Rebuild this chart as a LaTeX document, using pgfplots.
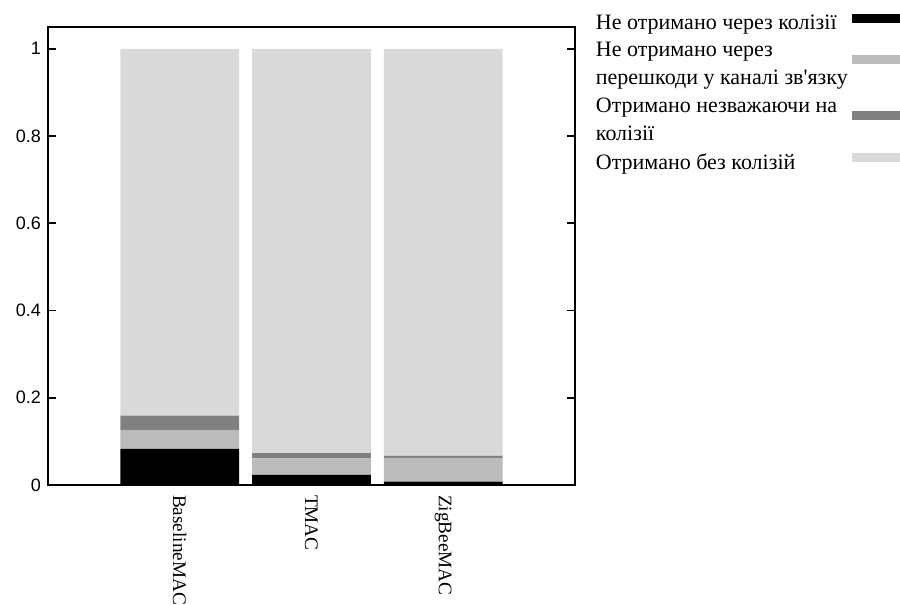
\documentclass[border=0pt]{standalone}
\usepackage{fontspec}
\setmainfont{Liberation Serif}
\newfontfamily\sansf{Liberation Sans}
\usepackage{pgfplots}
\pgfplotsset{compat=1.18}
\definecolor{c1}{HTML}{000000}
\definecolor{c2}{HTML}{BBBBBB}
\definecolor{c3}{HTML}{808080}
\definecolor{c4}{HTML}{D9D9D9}
\begin{document}
\begin{tikzpicture}
\useasboundingbox (-24pt,-60pt) rectangle (426pt,242.5pt);
\begin{axis}[
  scale only axis, width=263.5pt, height=229pt,
  xmin=-1, xmax=3, ymin=0, ymax=1.05,
  ybar stacked, bar width=0.9,
  xtick={0,1,2}, xticklabels={BaselineMAC,TMAC,ZigBeeMAC},
  xticklabel style={rotate=-90, anchor=west, xshift=1.5pt, font=\fontsize{9.6}{12}\selectfont},
  x tick style={draw=none},
  ytick={0,0.2,0.4,0.6,0.8,1},
  ytick pos=both, yticklabel pos=left,
  tick align=inside, major tick length=4pt,
  y tick style={line width=0.8pt, black},
  yticklabel style={font=\sansf\fontsize{9}{10}\selectfont},
  /pgf/number format/assume math mode=true,
  axis line style={line width=0.8pt},
  legend plot pos=right,
  legend cell align=left,
  legend style={at={(1.02,1.045)}, anchor=north west, draw=none, fill=none,
    font=\fontsize{11}{14}\selectfont, cells={align=left}, row sep=1pt},
]
\addplot[fill=c1, draw=none, legend image code/.code={\fill[c1] (0pt,0.5pt) rectangle (30pt,5pt);}]
  coordinates {(0,0.083) (1,0.023) (2,0.008)};
\addplot[fill=c2, draw=none, legend image code/.code={\fill[c2] (0pt,0.5pt) rectangle (30pt,5pt);}]
  coordinates {(0,0.043) (1,0.038) (2,0.054)};
\addplot[fill=c3, draw=none, legend image code/.code={\fill[c3] (0pt,0.5pt) rectangle (30pt,5pt);}]
  coordinates {(0,0.033) (1,0.012) (2,0.005)};
\addplot[fill=c4, draw=none, legend image code/.code={\fill[c4] (0pt,0.5pt) rectangle (30pt,5pt);}]
  coordinates {(0,0.841) (1,0.927) (2,0.933)};
\legend{Не отримано через колізії,{Не отримано через\\перешкоди у каналі зв\textquotesingle язку},{Отримано незважаючи на\\колізії},Отримано без колізій}
\end{axis}
\end{tikzpicture}
\end{document}
